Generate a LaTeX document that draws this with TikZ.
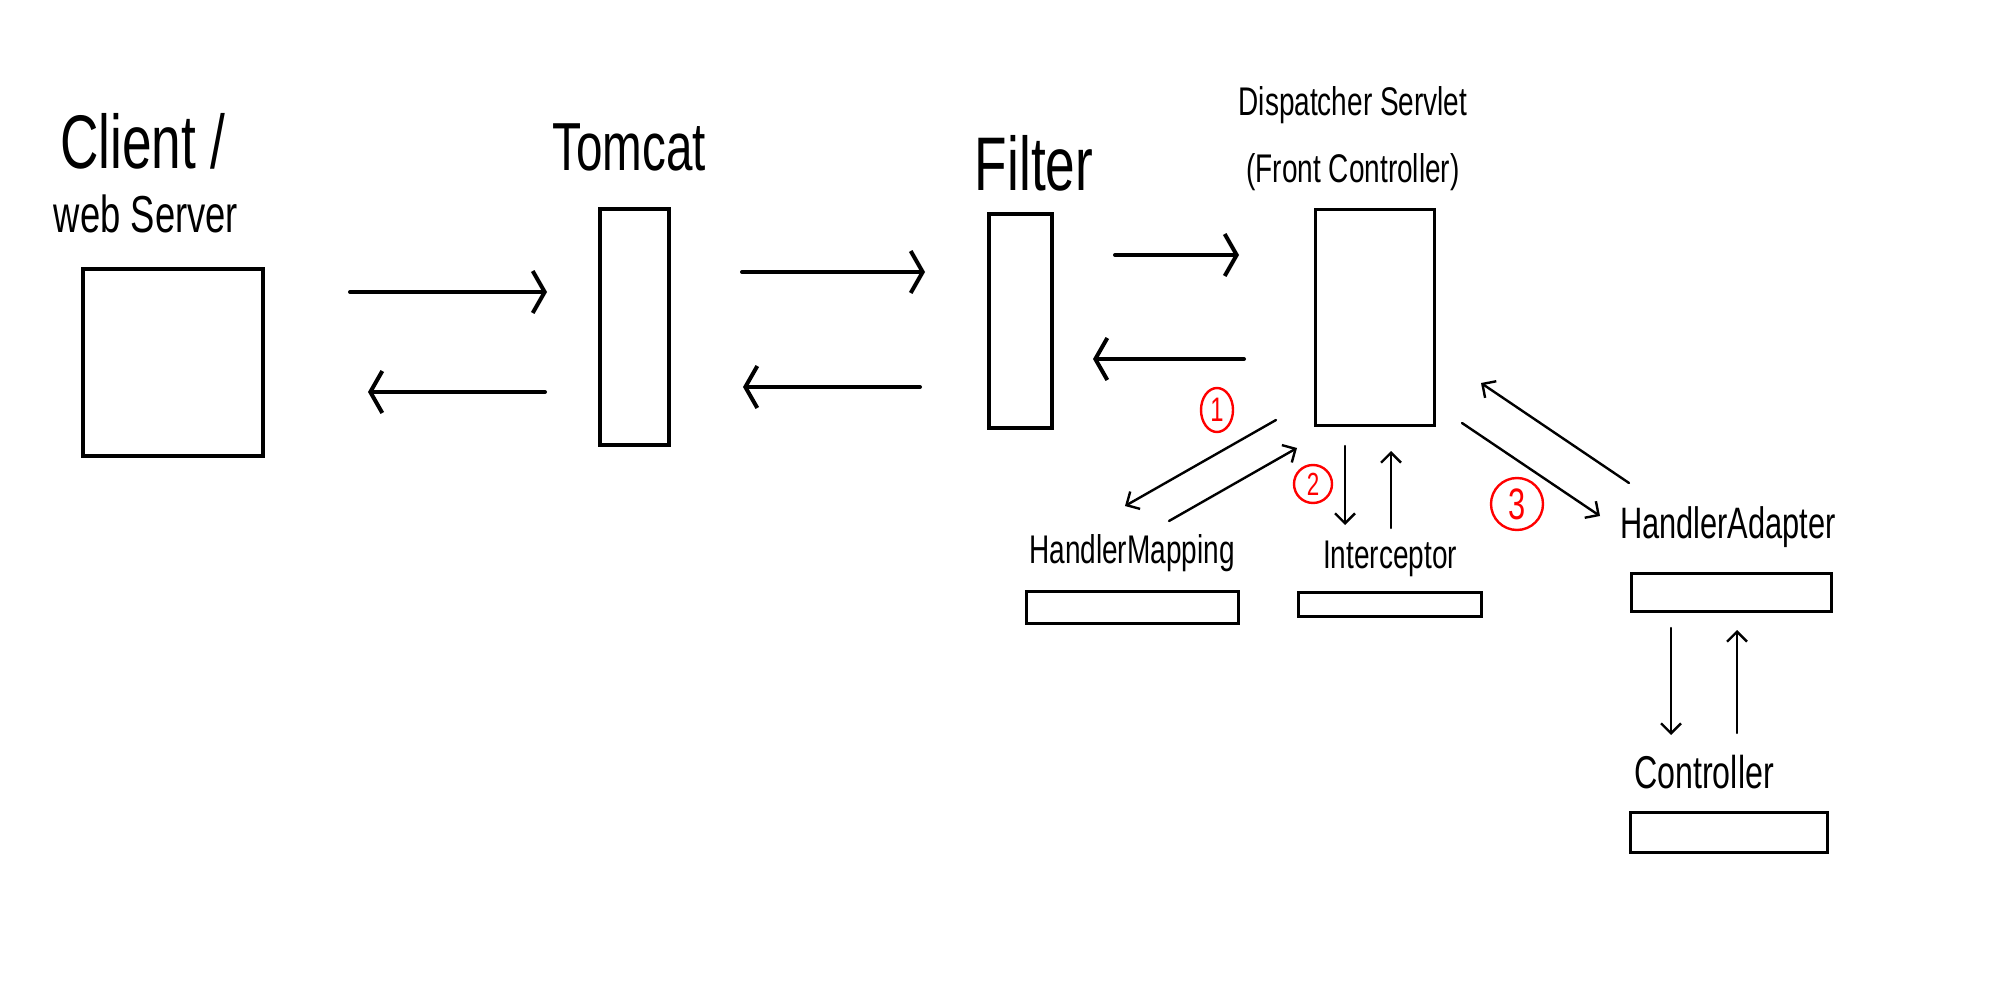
\documentclass[tikz,border=0pt]{standalone}
\usepackage{fontspec}
\setmainfont{Liberation Sans}[FakeStretch=0.7]
\usetikzlibrary{arrows.meta,shapes.geometric}

\begin{document}
\begin{tikzpicture}[x=0.5pt,y=-0.5pt,
        box/.style={draw,line width=2pt,inner sep=0pt},
        small/.style={draw,line width=1.5pt,inner sep=0pt},
        flow/.style={line width=2pt,line cap=round,-{Straight Barb[length=6pt,width=21pt]}},
        thin/.style={line width=1.2pt,line cap=round,-{Straight Barb[length=5pt,width=10pt]}},
        num/.style={draw=red,text=red,circle,line width=1.2pt,inner sep=0pt,font=\fontsize{17}{17}\selectfont}]
            \useasboundingbox (0,0) rectangle (2009,1000);

            % boxes
            \node[box,minimum width=90pt,minimum height=93.5pt] (client) at (173,362.5) {};
            \node[box,minimum width=34.5pt,minimum height=118pt] (tomcat) at (634.5,327) {};
            \node[box,minimum width=31.5pt,minimum height=107pt] (filter) at (1020.5,321) {};
            \node[small,minimum width=59.5pt,minimum height=107.5pt] (dispatcher) at (1374.5,317.5) {};
            \node[small,minimum width=106pt,minimum height=16pt] (mapping) at (1132,607) {};
            \node[small,minimum width=91.5pt,minimum height=12pt] (interceptor) at (1389.5,604) {};
            \node[small,minimum width=100pt,minimum height=19pt] (adapter) at (1731,592) {};
            \node[small,minimum width=98.5pt,minimum height=20pt] (controller) at (1728.5,832) {};

            % labels
            \node[font=\fontsize{38}{38}\selectfont] (clientA) at (143,141) {Client /};
            \node[font=\fontsize{26}{26}\selectfont] (clientB) at (146,214) {web Server};
            \node[font=\fontsize{34}{34}\selectfont] (tomcatL) at (629,147) {Tomcat};
            \node[font=\fontsize{38}{38}\selectfont] (filterL) at (1034,163) {Filter};
            \node[font=\fontsize{20}{20}\selectfont] (dispA) at (1353,105) {Dispatcher Servlet};
            \node[font=\fontsize{20}{20}\selectfont] (dispB) at (1353,172) {(Front Controller)};
            \node[font=\fontsize{20}{20}\selectfont] (mappingL) at (1132,553) {HandlerMapping};
            \node[font=\fontsize{20}{20}\selectfont] (interceptorL) at (1390,559) {Interceptor};
            \node[font=\fontsize{22}{22}\selectfont] (adapterL) at (1728,527) {HandlerAdapter};
            \node[font=\fontsize{23}{23}\selectfont] (controllerL) at (1704,772) {Controller};

            \node[num,ellipse,minimum width=16pt,minimum height=22pt] (one) at (1217,410) {1};
            \node[num,minimum size=19pt,font=\fontsize{16}{16}\selectfont] (two) at (1313,484) {2};
            \node[num,minimum size=26pt,font=\fontsize{22}{22}\selectfont] (three) at (1517,504) {3};

            % arrow ends
            \coordinate (a) at (350,292);  \coordinate (b) at (547,292);
            \coordinate (c) at (545,392);  \coordinate (d) at (368,392);
            \coordinate (e) at (742,272);  \coordinate (f) at (925,272);
            \coordinate (g) at (920,387);  \coordinate (h) at (743,387);
            \coordinate (i) at (1115,255); \coordinate (j) at (1239,255);
            \coordinate (k) at (1244,359); \coordinate (l) at (1093,359);

            \coordinate (m1) at (1276,420); \coordinate (m2) at (1125,506);
            \coordinate (m3) at (1169,521); \coordinate (m4) at (1297,448);
            \coordinate (i1) at (1345,446); \coordinate (i2) at (1345,525);
            \coordinate (i3) at (1391,528); \coordinate (i4) at (1391,451);
            \coordinate (d1) at (1462,423); \coordinate (d2) at (1600,516);
            \coordinate (d3) at (1629,483); \coordinate (d4) at (1481,383);
            \coordinate (c1) at (1671,628); \coordinate (c2) at (1671,735);
            \coordinate (c3) at (1737,733); \coordinate (c4) at (1737,630);

            \foreach \s/\t in {a/b,c/d,e/f,g/h,i/j,k/l}{
                \draw[flow] (\s)--(\t);
            }
            \foreach \s/\t in {m1/m2,m3/m4,i1/i2,i3/i4,d1/d2,d3/d4,c1/c2,c3/c4}{
                \draw[thin] (\s)--(\t);
            }
        \end{tikzpicture}
\end{document}
